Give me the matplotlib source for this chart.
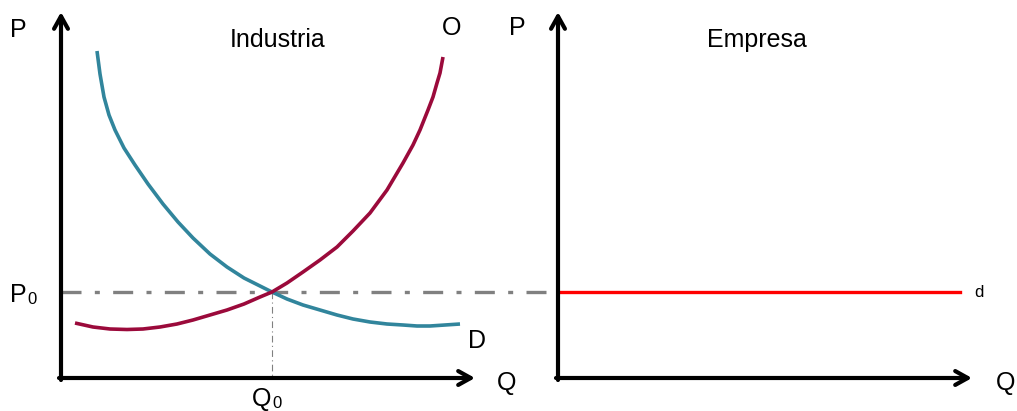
import numpy as np
import matplotlib.pyplot as plt

plt.rcParams['font.family'] = ['Liberation Sans', 'DejaVu Sans']

# curves (pixel space, y grows downward)
demand_x = [97, 100, 104, 109, 115, 124, 135, 148, 163, 178, 193, 210, 227, 244,
            260, 272, 287, 303, 320, 337, 353, 370, 387, 403, 417, 430, 445, 460]
demand_y = [51, 74, 97, 115, 130, 148, 165, 184, 204, 222, 238, 254, 267, 278,
            286, 292, 299, 305, 310, 315, 319, 322, 324, 325, 326, 326, 325, 324]
supply_x = [75, 93, 110, 127, 143, 160, 177, 193, 210, 227, 244, 260, 272, 287,
            303, 320, 337, 353, 370, 387, 403, 413, 420, 428, 433, 437, 440, 443]
supply_y = [323, 327, 329, 329.5, 329, 327, 324, 320, 315, 310, 304, 297, 292, 283,
            272, 260, 247, 231, 213, 190, 163, 145, 130, 110, 97, 83, 73, 57]

p0_level = 292
q0_level = 272

W, H = 1017, 411
fig = plt.figure(figsize=(W / 100, H / 100), dpi=100)
ax = fig.add_axes([0, 0, 1, 1])
ax.set_xlim(0, W)
ax.set_ylim(H, 0)
ax.axis('off')

teal = '#31859C'
crimson = '#9B0A3B'
grey = '#808080'

def axis_arrow(x0, y0, x1, y1):
    ax.annotate('', xy=(x1, y1), xytext=(x0, y0),
                arrowprops=dict(arrowstyle='->,head_length=0.9,head_width=0.5',
                                lw=3, color='black', shrinkA=0, shrinkB=0))

# dashed price line and quantity drop line
ax.plot([61, 558], [p0_level, p0_level], color=grey, lw=2.4, ls=(0, (6, 4, 1.5, 4)), zorder=1)
ax.plot([q0_level, q0_level], [p0_level, 378], color=grey, lw=0.8, ls=(0, (6, 3, 1, 3)), zorder=1)

ax.plot(demand_x, demand_y, color=teal, lw=2.6, solid_capstyle='butt',
        solid_joinstyle='round', zorder=2)
ax.plot(supply_x, supply_y, color=crimson, lw=2.6, solid_capstyle='butt',
        solid_joinstyle='round', zorder=3)

ax.plot([560, 960], [p0_level, p0_level], color='#FF0000', lw=2.4, zorder=2)

# axes with arrows
for x0 in (61, 558):
    axis_arrow(x0, 380, x0, 12)
    axis_arrow(x0 - 2, 378, x0 + 414, 378)

fs = 18
ax.text(10, 30, 'P', fontsize=fs, va='center', ha='left')
ax.text(278, 40, 'Industria', fontsize=fs, va='center', ha='center')
ax.text(452, 28, 'O', fontsize=fs, va='center', ha='center')
ax.text(477, 341, 'D', fontsize=fs, va='center', ha='center')
ax.text(507, 383, 'Q', fontsize=fs, va='center', ha='center')
ax.text(517, 28, 'P', fontsize=fs, va='center', ha='center')
ax.text(757, 40, 'Empresa', fontsize=fs, va='center', ha='center')
ax.text(1006, 383, 'Q', fontsize=fs, va='center', ha='center')
ax.text(979, 292, 'd', fontsize=12, va='center', ha='center')

ax.text(10, 295, 'P', fontsize=fs, va='center', ha='left')
ax.text(27, 299, '0', fontsize=12, va='center', ha='left')
ax.text(252, 399, 'Q', fontsize=fs, va='center', ha='left')
ax.text(272, 403, '0', fontsize=12, va='center', ha='left')

fig.savefig('out.png', dpi=100)
